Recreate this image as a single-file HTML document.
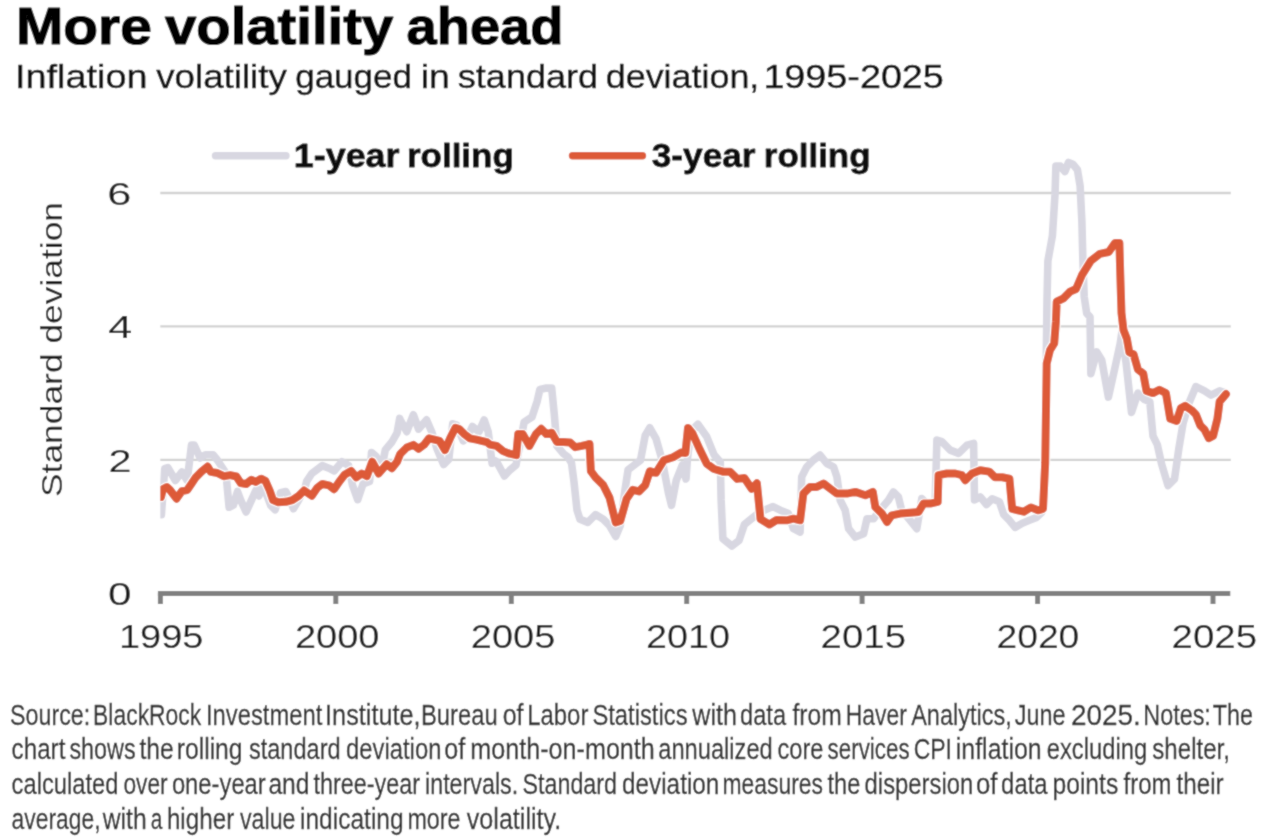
<!DOCTYPE html>
<html><head><meta charset="utf-8"><title>More volatility ahead</title>
<style>html,body{margin:0;padding:0;background:#fff;overflow:hidden;}svg{display:block;}</style></head>
<body><svg width="1284" height="838" viewBox="0 0 1284 838">
<defs><filter id="soft" x="0" y="0" width="1284" height="838" filterUnits="userSpaceOnUse"><feConvolveMatrix order="3" kernelMatrix="1 2 1 2 12 2 1 2 1" divisor="24" edgeMode="duplicate"/></filter></defs>
<g filter="url(#soft)">
<rect width="1284" height="838" fill="#ffffff"/>
<text id="title_0" x="16.00" y="44.40" font-size="52.00" textLength="135.77" lengthAdjust="spacingAndGlyphs" font-family="&quot;Liberation Sans&quot;, Arial, sans-serif" fill="#000" font-weight="700" stroke="#000" stroke-width="1.20" stroke-linejoin="round">More</text>
<text id="title_1" x="165.00" y="44.40" font-size="52.00" textLength="228.25" lengthAdjust="spacingAndGlyphs" font-family="&quot;Liberation Sans&quot;, Arial, sans-serif" fill="#000" font-weight="700" stroke="#000" stroke-width="1.20" stroke-linejoin="round">volatility</text>
<text id="title_2" x="406.60" y="44.40" font-size="52.00" textLength="156.77" lengthAdjust="spacingAndGlyphs" font-family="&quot;Liberation Sans&quot;, Arial, sans-serif" fill="#000" font-weight="700" stroke="#000" stroke-width="1.20" stroke-linejoin="round">ahead</text>
<text id="sub_0" x="15.00" y="88.10" font-size="33.00" textLength="132.49" lengthAdjust="spacingAndGlyphs" font-family="&quot;Liberation Sans&quot;, Arial, sans-serif" fill="#111" stroke="#111" stroke-width="0.40" stroke-linejoin="round">Inflation</text>
<text id="sub_1" x="156.20" y="88.10" font-size="33.00" textLength="130.68" lengthAdjust="spacingAndGlyphs" font-family="&quot;Liberation Sans&quot;, Arial, sans-serif" fill="#111" stroke="#111" stroke-width="0.40" stroke-linejoin="round">volatility</text>
<text id="sub_2" x="295.20" y="88.10" font-size="33.00" textLength="116.81" lengthAdjust="spacingAndGlyphs" font-family="&quot;Liberation Sans&quot;, Arial, sans-serif" fill="#111" stroke="#111" stroke-width="0.40" stroke-linejoin="round">gauged</text>
<text id="sub_3" x="420.80" y="88.10" font-size="33.00" textLength="29.06" lengthAdjust="spacingAndGlyphs" font-family="&quot;Liberation Sans&quot;, Arial, sans-serif" fill="#111" stroke="#111" stroke-width="0.40" stroke-linejoin="round">in</text>
<text id="sub_4" x="457.80" y="88.10" font-size="33.00" textLength="140.29" lengthAdjust="spacingAndGlyphs" font-family="&quot;Liberation Sans&quot;, Arial, sans-serif" fill="#111" stroke="#111" stroke-width="0.40" stroke-linejoin="round">standard</text>
<text id="sub_5" x="605.80" y="88.10" font-size="33.00" textLength="153.48" lengthAdjust="spacingAndGlyphs" font-family="&quot;Liberation Sans&quot;, Arial, sans-serif" fill="#111" stroke="#111" stroke-width="0.40" stroke-linejoin="round">deviation,</text>
<text id="sub_6" x="763.40" y="88.10" font-size="33.00" textLength="180.46" lengthAdjust="spacingAndGlyphs" font-family="&quot;Liberation Sans&quot;, Arial, sans-serif" fill="#111" stroke="#111" stroke-width="0.40" stroke-linejoin="round">1995-2025</text>
<line x1="215.5" y1="155.8" x2="286.0" y2="155.8" stroke="#d8d7e1" stroke-width="7.4" stroke-linecap="round"/>
<line x1="572.5" y1="155.8" x2="642.5" y2="155.8" stroke="#dd5a38" stroke-width="7.4" stroke-linecap="round"/>
<text id="leg1_0" x="293.80" y="167.40" font-size="33.00" textLength="105.71" lengthAdjust="spacingAndGlyphs" font-family="&quot;Liberation Sans&quot;, Arial, sans-serif" fill="#111" font-weight="700" stroke="#111" stroke-width="0.80" stroke-linejoin="round">1-year</text>
<text id="leg1_1" x="407.00" y="167.40" font-size="33.00" textLength="106.75" lengthAdjust="spacingAndGlyphs" font-family="&quot;Liberation Sans&quot;, Arial, sans-serif" fill="#111" font-weight="700" stroke="#111" stroke-width="0.80" stroke-linejoin="round">rolling</text>
<text id="leg3_0" x="651.80" y="167.20" font-size="33.00" textLength="103.69" lengthAdjust="spacingAndGlyphs" font-family="&quot;Liberation Sans&quot;, Arial, sans-serif" fill="#111" font-weight="700" stroke="#111" stroke-width="0.80" stroke-linejoin="round">3-year</text>
<text id="leg3_1" x="763.80" y="167.20" font-size="33.00" textLength="106.73" lengthAdjust="spacingAndGlyphs" font-family="&quot;Liberation Sans&quot;, Arial, sans-serif" fill="#111" font-weight="700" stroke="#111" stroke-width="0.80" stroke-linejoin="round">rolling</text>
<line x1="160.3" y1="459.9" x2="1230.8" y2="459.9" stroke="#d2d2d2" stroke-width="2.4"/>
<line x1="160.3" y1="326.4" x2="1230.8" y2="326.4" stroke="#d2d2d2" stroke-width="2.4"/>
<line x1="160.3" y1="193.0" x2="1230.8" y2="193.0" stroke="#d2d2d2" stroke-width="2.4"/>
<text id="y0" x="107.90" y="605.00" font-size="32.00" textLength="23.52" lengthAdjust="spacingAndGlyphs" font-family="&quot;Liberation Sans&quot;, Arial, sans-serif" fill="#1a1a1a">0</text>
<text id="y2" x="108.50" y="471.50" font-size="32.00" textLength="23.03" lengthAdjust="spacingAndGlyphs" font-family="&quot;Liberation Sans&quot;, Arial, sans-serif" fill="#1a1a1a">2</text>
<text id="y4" x="108.30" y="338.00" font-size="32.00" textLength="24.02" lengthAdjust="spacingAndGlyphs" font-family="&quot;Liberation Sans&quot;, Arial, sans-serif" fill="#1a1a1a">4</text>
<text id="y6" x="107.30" y="204.60" font-size="32.00" textLength="24.11" lengthAdjust="spacingAndGlyphs" font-family="&quot;Liberation Sans&quot;, Arial, sans-serif" fill="#1a1a1a">6</text>
<text transform="translate(61.50,497.00) rotate(-90)" x="0" y="0" font-family="&quot;Liberation Sans&quot;, Arial, sans-serif" font-size="29.50" fill="#1a1a1a" textLength="295.00" lengthAdjust="spacingAndGlyphs">Standard deviation</text>
<defs><clipPath id="pc"><rect x="160.3" y="100" width="1080" height="494"/></clipPath></defs><g clip-path="url(#pc)">
<polyline points="161.4,514.8 164.7,468.7 167.9,467.6 175.4,480.5 181.8,471.9 187.2,480.5 191.5,445.0 194.2,445.0 200.1,458.0 205.5,454.7 213.0,454.7 217.3,460.0 225.9,473.0 229.1,507.3 233.4,505.2 237.5,491.5 240.7,500.1 246.1,512.0 251.5,500.1 255.8,490.5 259.0,495.9 262.2,483.0 270.8,505.6 275.1,509.8 280.5,492.6 285.8,491.5 290.1,500.1 293.4,508.7 298.7,500.1 305.2,487.2 306.6,481.4 311.8,473.5 322.3,465.6 328.9,468.2 334.1,470.9 342.0,461.7 348.6,465.6 352.5,485.3 357.7,499.7 363.0,484.0 369.6,481.4 371.5,452.5 376.1,456.4 381.4,469.6 385.3,449.9 391.9,442.0 397.1,432.8 399.7,418.4 400.2,419.9 406.8,431.7 413.4,414.7 418.6,429.1 426.5,419.9 431.7,431.7 437.0,448.8 443.6,464.6 448.8,459.3 452.7,423.9 456.7,425.2 463.2,440.9 467.0,438.0 472.4,426.5 479.0,431.7 484.2,419.9 488.2,431.7 492.1,463.2 495.0,460.6 496.6,461.6 504.4,476.0 510.0,470.0 516.0,465.0 524.1,422.2 532.0,417.0 537.2,401.2 539.9,389.4 546.4,388.1 551.7,388.1 554.3,414.4 556.9,445.9 563.5,453.7 568.0,457.0 571.5,463.0 574.0,482.0 577.0,510.0 580.0,519.3 587.8,522.4 595.5,514.6 603.3,519.3 609.5,525.5 615.7,536.4 620.3,525.5 625.0,489.8 628.1,469.7 634.3,465.0 640.5,460.3 645.2,435.5 649.8,427.8 656.0,438.6 662.2,460.3 668.4,492.9 671.5,505.3 676.2,480.5 682.4,465.0 686.0,479.0 687.5,458.3 690.7,431.5 697.9,424.3 706.8,436.8 714.0,454.7 720.3,461.9 721.1,499.4 722.9,538.8 731.9,546.0 739.0,540.6 744.4,524.5 753.3,517.3 760.0,512.0 773.0,506.6 780.2,510.2 788.4,513.6 793.4,528.7 800.1,532.0 801.7,476.9 806.8,466.8 813.4,460.1 820.1,455.1 826.8,463.5 833.5,466.8 836.9,476.9 840.2,500.3 845.2,510.3 848.6,528.7 855.3,537.1 863.6,533.7 867.0,518.7 873.6,518.7 880.0,510.0 888.4,500.3 893.4,491.9 898.4,496.9 901.7,510.3 910.1,520.3 916.8,528.7 921.8,498.6 928.0,505.0 935.2,500.3 936.9,440.1 941.9,441.7 950.2,450.1 958.6,453.4 967.0,445.1 973.6,443.4 974.5,500.0 980.3,496.9 986.5,504.5 992.2,498.8 999.4,501.7 1003.7,514.6 1009.4,520.3 1015.1,527.4 1022.3,523.2 1029.4,520.3 1036.6,517.4 1042.0,512.0 1045.0,460.0 1047.0,300.0 1047.9,260.9 1052.4,235.9 1055.0,194.7 1055.9,166.1 1060.4,166.1 1064.9,171.5 1068.5,162.5 1072.9,164.3 1077.4,169.7 1080.1,185.8 1081.9,221.6 1082.8,257.3 1084.2,296.7 1086.7,313.4 1090.0,316.8 1090.9,373.6 1096.7,351.9 1101.8,360.3 1108.4,397.1 1115.1,367.0 1120.2,343.5 1121.8,332.9 1126.1,363.0 1131.5,412.4 1137.9,393.1 1144.4,399.5 1149.8,401.7 1153.0,436.0 1157.3,444.6 1161.6,464.0 1168.0,485.5 1174.5,479.0 1178.8,448.9 1183.1,423.1 1189.5,401.7 1195.9,386.6 1204.5,390.9 1211.0,395.2 1219.6,390.9 1226.0,393.1" fill="none" stroke="#d8d7e1" stroke-width="7.6" stroke-linejoin="round" stroke-linecap="round"/>
<polyline points="161.0,497.0 163.0,489.0 166.8,487.0 170.0,490.0 176.5,498.7 181.8,491.2 187.2,490.1 191.5,483.7 195.8,477.3 201.2,471.9 207.6,466.5 210.8,471.9 217.3,473.0 223.7,476.2 230.2,475.1 236.4,476.5 240.7,483.0 246.1,484.0 251.5,479.7 255.8,481.9 261.1,478.7 265.4,480.8 269.7,490.5 273.0,500.1 278.3,502.3 285.8,501.8 292.3,500.1 298.7,495.9 304.1,490.5 311.8,495.8 317.1,487.9 322.3,484.0 328.9,485.3 334.1,489.2 339.4,481.4 344.6,474.8 351.2,470.9 356.4,477.4 361.7,473.5 366.9,476.1 372.2,461.7 378.7,473.5 386.6,464.3 391.9,468.2 397.1,461.7 400.2,454.0 406.8,447.5 413.4,444.9 418.6,448.8 423.9,444.9 429.1,438.3 434.4,439.6 439.6,440.9 444.9,450.1 450.1,438.3 455.4,427.8 459.3,429.1 464.6,434.4 469.8,438.3 476.4,439.6 481.6,440.9 486.9,442.2 490.0,444.6 496.6,445.9 503.1,451.1 509.7,453.7 516.2,455.1 518.2,434.1 522.8,434.1 529.4,445.9 535.9,434.1 541.2,428.8 546.4,434.1 551.7,432.7 556.9,441.9 563.5,441.9 570.1,442.6 575.3,447.2 581.9,445.9 587.1,444.6 589.5,444.0 590.9,471.2 595.5,477.4 603.3,485.2 609.5,497.6 615.7,522.4 620.3,520.9 626.5,499.1 632.8,489.8 639.0,491.4 645.2,485.2 649.8,471.2 656.0,472.8 663.8,460.3 673.1,457.2 680.9,452.6 685.4,452.9 688.0,427.9 692.5,433.3 699.7,449.4 706.8,463.7 714.0,469.0 722.9,471.7 730.1,471.7 737.2,478.9 744.4,478.0 751.6,488.7 756.9,483.3 760.5,519.1 769.4,524.5 776.6,520.0 786.7,520.3 793.4,518.7 800.1,520.3 803.4,493.6 810.1,486.9 816.8,486.9 823.5,483.5 830.2,488.6 836.9,493.6 846.9,493.6 855.3,491.9 865.3,495.3 872.8,491.9 875.3,507.0 882.0,513.6 887.0,522.0 891.7,515.3 900.1,513.6 910.1,512.8 918.5,512.0 923.5,503.6 930.2,503.6 937.7,501.9 938.5,475.2 946.9,473.5 955.3,473.5 961.9,475.2 965.3,480.2 972.0,473.5 980.3,470.2 989.3,471.6 995.1,477.3 1002.2,477.3 1009.4,478.7 1012.2,508.8 1018.0,510.3 1023.7,511.7 1030.9,507.4 1038.0,510.3 1043.0,508.8 1045.2,463.0 1046.7,363.5 1050.0,350.1 1054.2,343.4 1055.9,321.7 1056.7,301.7 1063.4,298.4 1070.1,291.7 1076.0,289.0 1081.9,275.2 1090.8,260.9 1099.8,253.8 1108.7,252.0 1115.0,243.0 1119.4,243.0 1120.3,275.2 1121.5,313.0 1123.5,330.1 1126.8,338.4 1129.3,352.2 1133.6,354.4 1137.9,369.4 1143.3,373.7 1146.5,390.9 1153.0,393.1 1159.4,389.8 1165.9,393.1 1170.2,418.8 1176.6,421.0 1180.9,408.1 1185.2,405.9 1191.6,410.2 1195.9,414.5 1200.2,425.3 1204.5,429.6 1208.8,438.2 1213.1,436.0 1217.4,418.8 1219.6,401.7 1226.0,394.1" fill="none" stroke="#ffffff" stroke-width="10.4" stroke-linejoin="round" stroke-linecap="round"/>
<polyline points="161.0,497.0 163.0,489.0 166.8,487.0 170.0,490.0 176.5,498.7 181.8,491.2 187.2,490.1 191.5,483.7 195.8,477.3 201.2,471.9 207.6,466.5 210.8,471.9 217.3,473.0 223.7,476.2 230.2,475.1 236.4,476.5 240.7,483.0 246.1,484.0 251.5,479.7 255.8,481.9 261.1,478.7 265.4,480.8 269.7,490.5 273.0,500.1 278.3,502.3 285.8,501.8 292.3,500.1 298.7,495.9 304.1,490.5 311.8,495.8 317.1,487.9 322.3,484.0 328.9,485.3 334.1,489.2 339.4,481.4 344.6,474.8 351.2,470.9 356.4,477.4 361.7,473.5 366.9,476.1 372.2,461.7 378.7,473.5 386.6,464.3 391.9,468.2 397.1,461.7 400.2,454.0 406.8,447.5 413.4,444.9 418.6,448.8 423.9,444.9 429.1,438.3 434.4,439.6 439.6,440.9 444.9,450.1 450.1,438.3 455.4,427.8 459.3,429.1 464.6,434.4 469.8,438.3 476.4,439.6 481.6,440.9 486.9,442.2 490.0,444.6 496.6,445.9 503.1,451.1 509.7,453.7 516.2,455.1 518.2,434.1 522.8,434.1 529.4,445.9 535.9,434.1 541.2,428.8 546.4,434.1 551.7,432.7 556.9,441.9 563.5,441.9 570.1,442.6 575.3,447.2 581.9,445.9 587.1,444.6 589.5,444.0 590.9,471.2 595.5,477.4 603.3,485.2 609.5,497.6 615.7,522.4 620.3,520.9 626.5,499.1 632.8,489.8 639.0,491.4 645.2,485.2 649.8,471.2 656.0,472.8 663.8,460.3 673.1,457.2 680.9,452.6 685.4,452.9 688.0,427.9 692.5,433.3 699.7,449.4 706.8,463.7 714.0,469.0 722.9,471.7 730.1,471.7 737.2,478.9 744.4,478.0 751.6,488.7 756.9,483.3 760.5,519.1 769.4,524.5 776.6,520.0 786.7,520.3 793.4,518.7 800.1,520.3 803.4,493.6 810.1,486.9 816.8,486.9 823.5,483.5 830.2,488.6 836.9,493.6 846.9,493.6 855.3,491.9 865.3,495.3 872.8,491.9 875.3,507.0 882.0,513.6 887.0,522.0 891.7,515.3 900.1,513.6 910.1,512.8 918.5,512.0 923.5,503.6 930.2,503.6 937.7,501.9 938.5,475.2 946.9,473.5 955.3,473.5 961.9,475.2 965.3,480.2 972.0,473.5 980.3,470.2 989.3,471.6 995.1,477.3 1002.2,477.3 1009.4,478.7 1012.2,508.8 1018.0,510.3 1023.7,511.7 1030.9,507.4 1038.0,510.3 1043.0,508.8 1045.2,463.0 1046.7,363.5 1050.0,350.1 1054.2,343.4 1055.9,321.7 1056.7,301.7 1063.4,298.4 1070.1,291.7 1076.0,289.0 1081.9,275.2 1090.8,260.9 1099.8,253.8 1108.7,252.0 1115.0,243.0 1119.4,243.0 1120.3,275.2 1121.5,313.0 1123.5,330.1 1126.8,338.4 1129.3,352.2 1133.6,354.4 1137.9,369.4 1143.3,373.7 1146.5,390.9 1153.0,393.1 1159.4,389.8 1165.9,393.1 1170.2,418.8 1176.6,421.0 1180.9,408.1 1185.2,405.9 1191.6,410.2 1195.9,414.5 1200.2,425.3 1204.5,429.6 1208.8,438.2 1213.1,436.0 1217.4,418.8 1219.6,401.7 1226.0,394.1" fill="none" stroke="#dd5a38" stroke-width="8.0" stroke-linejoin="round" stroke-linecap="round"/>
</g>
<line x1="157.9" y1="593.5" x2="1230.3" y2="593.5" stroke="#808080" stroke-width="5"/>
<line x1="160.4" y1="593" x2="160.4" y2="604" stroke="#808080" stroke-width="5"/>
<text id="x1995" x="118.90" y="648.00" font-size="33.00" textLength="84.59" lengthAdjust="spacingAndGlyphs" font-family="&quot;Liberation Sans&quot;, Arial, sans-serif" fill="#1a1a1a">1995</text>
<line x1="335.8" y1="593" x2="335.8" y2="604" stroke="#808080" stroke-width="5"/>
<text id="x2000" x="294.93" y="648.00" font-size="33.00" textLength="84.58" lengthAdjust="spacingAndGlyphs" font-family="&quot;Liberation Sans&quot;, Arial, sans-serif" fill="#1a1a1a">2000</text>
<line x1="511.3" y1="593" x2="511.3" y2="604" stroke="#808080" stroke-width="5"/>
<text id="x2005" x="470.77" y="648.00" font-size="33.00" textLength="84.56" lengthAdjust="spacingAndGlyphs" font-family="&quot;Liberation Sans&quot;, Arial, sans-serif" fill="#1a1a1a">2005</text>
<line x1="686.7" y1="593" x2="686.7" y2="604" stroke="#808080" stroke-width="5"/>
<text id="x2010" x="646.00" y="648.00" font-size="33.00" textLength="84.14" lengthAdjust="spacingAndGlyphs" font-family="&quot;Liberation Sans&quot;, Arial, sans-serif" fill="#1a1a1a">2010</text>
<line x1="862.1" y1="593" x2="862.1" y2="604" stroke="#808080" stroke-width="5"/>
<text id="x2015" x="820.63" y="648.00" font-size="33.00" textLength="85.41" lengthAdjust="spacingAndGlyphs" font-family="&quot;Liberation Sans&quot;, Arial, sans-serif" fill="#1a1a1a">2015</text>
<line x1="1037.6" y1="593" x2="1037.6" y2="604" stroke="#808080" stroke-width="5"/>
<text id="x2020" x="996.47" y="648.00" font-size="33.00" textLength="82.86" lengthAdjust="spacingAndGlyphs" font-family="&quot;Liberation Sans&quot;, Arial, sans-serif" fill="#1a1a1a">2020</text>
<line x1="1213.0" y1="593" x2="1213.0" y2="604" stroke="#808080" stroke-width="5"/>
<text id="x2025" x="1171.50" y="648.00" font-size="33.00" textLength="85.63" lengthAdjust="spacingAndGlyphs" font-family="&quot;Liberation Sans&quot;, Arial, sans-serif" fill="#1a1a1a">2025</text>
<text id="fn0_0" x="10.10" y="724.80" font-size="28.80" textLength="80.05" lengthAdjust="spacingAndGlyphs" font-family="&quot;Liberation Sans&quot;, Arial, sans-serif" fill="#2e2e2e" stroke="#2e2e2e" stroke-width="0.30" stroke-linejoin="round">Source:</text>
<text id="fn0_1" x="93.10" y="724.80" font-size="28.80" textLength="108.14" lengthAdjust="spacingAndGlyphs" font-family="&quot;Liberation Sans&quot;, Arial, sans-serif" fill="#2e2e2e" stroke="#2e2e2e" stroke-width="0.30" stroke-linejoin="round">BlackRock</text>
<text id="fn0_2" x="206.00" y="724.80" font-size="28.80" textLength="116.29" lengthAdjust="spacingAndGlyphs" font-family="&quot;Liberation Sans&quot;, Arial, sans-serif" fill="#2e2e2e" stroke="#2e2e2e" stroke-width="0.30" stroke-linejoin="round">Investment</text>
<text id="fn0_3" x="325.10" y="724.80" font-size="28.80" textLength="95.51" lengthAdjust="spacingAndGlyphs" font-family="&quot;Liberation Sans&quot;, Arial, sans-serif" fill="#2e2e2e" stroke="#2e2e2e" stroke-width="0.30" stroke-linejoin="round">Institute,</text>
<text id="fn0_4" x="421.00" y="724.80" font-size="28.80" textLength="76.66" lengthAdjust="spacingAndGlyphs" font-family="&quot;Liberation Sans&quot;, Arial, sans-serif" fill="#2e2e2e" stroke="#2e2e2e" stroke-width="0.30" stroke-linejoin="round">Bureau</text>
<text id="fn0_5" x="502.70" y="724.80" font-size="28.80" textLength="20.79" lengthAdjust="spacingAndGlyphs" font-family="&quot;Liberation Sans&quot;, Arial, sans-serif" fill="#2e2e2e" stroke="#2e2e2e" stroke-width="0.30" stroke-linejoin="round">of</text>
<text id="fn0_6" x="527.20" y="724.80" font-size="28.80" textLength="61.22" lengthAdjust="spacingAndGlyphs" font-family="&quot;Liberation Sans&quot;, Arial, sans-serif" fill="#2e2e2e" stroke="#2e2e2e" stroke-width="0.30" stroke-linejoin="round">Labor</text>
<text id="fn0_7" x="592.40" y="724.80" font-size="28.80" textLength="95.15" lengthAdjust="spacingAndGlyphs" font-family="&quot;Liberation Sans&quot;, Arial, sans-serif" fill="#2e2e2e" stroke="#2e2e2e" stroke-width="0.30" stroke-linejoin="round">Statistics</text>
<text id="fn0_8" x="692.30" y="724.80" font-size="28.80" textLength="44.67" lengthAdjust="spacingAndGlyphs" font-family="&quot;Liberation Sans&quot;, Arial, sans-serif" fill="#2e2e2e" stroke="#2e2e2e" stroke-width="0.30" stroke-linejoin="round">with</text>
<text id="fn0_9" x="740.10" y="724.80" font-size="28.80" textLength="45.95" lengthAdjust="spacingAndGlyphs" font-family="&quot;Liberation Sans&quot;, Arial, sans-serif" fill="#2e2e2e" stroke="#2e2e2e" stroke-width="0.30" stroke-linejoin="round">data</text>
<text id="fn0_10" x="792.50" y="724.80" font-size="28.80" textLength="49.28" lengthAdjust="spacingAndGlyphs" font-family="&quot;Liberation Sans&quot;, Arial, sans-serif" fill="#2e2e2e" stroke="#2e2e2e" stroke-width="0.30" stroke-linejoin="round">from</text>
<text id="fn0_11" x="845.70" y="724.80" font-size="28.80" textLength="61.16" lengthAdjust="spacingAndGlyphs" font-family="&quot;Liberation Sans&quot;, Arial, sans-serif" fill="#2e2e2e" stroke="#2e2e2e" stroke-width="0.30" stroke-linejoin="round">Haver</text>
<text id="fn0_12" x="911.20" y="724.80" font-size="28.80" textLength="100.47" lengthAdjust="spacingAndGlyphs" font-family="&quot;Liberation Sans&quot;, Arial, sans-serif" fill="#2e2e2e" stroke="#2e2e2e" stroke-width="0.30" stroke-linejoin="round">Analytics,</text>
<text id="fn0_13" x="1014.80" y="724.80" font-size="28.80" textLength="50.85" lengthAdjust="spacingAndGlyphs" font-family="&quot;Liberation Sans&quot;, Arial, sans-serif" fill="#2e2e2e" stroke="#2e2e2e" stroke-width="0.30" stroke-linejoin="round">June</text>
<text id="fn0_14" x="1071.00" y="724.80" font-size="28.80" textLength="69.80" lengthAdjust="spacingAndGlyphs" font-family="&quot;Liberation Sans&quot;, Arial, sans-serif" fill="#2e2e2e" stroke="#2e2e2e" stroke-width="0.30" stroke-linejoin="round">2025.</text>
<text id="fn0_15" x="1143.30" y="724.80" font-size="28.80" textLength="67.55" lengthAdjust="spacingAndGlyphs" font-family="&quot;Liberation Sans&quot;, Arial, sans-serif" fill="#2e2e2e" stroke="#2e2e2e" stroke-width="0.30" stroke-linejoin="round">Notes:</text>
<text id="fn0_16" x="1212.70" y="724.80" font-size="28.80" textLength="40.26" lengthAdjust="spacingAndGlyphs" font-family="&quot;Liberation Sans&quot;, Arial, sans-serif" fill="#2e2e2e" stroke="#2e2e2e" stroke-width="0.30" stroke-linejoin="round">The</text>
<text id="fn1_0" x="11.60" y="758.80" font-size="28.80" textLength="53.79" lengthAdjust="spacingAndGlyphs" font-family="&quot;Liberation Sans&quot;, Arial, sans-serif" fill="#2e2e2e" stroke="#2e2e2e" stroke-width="0.30" stroke-linejoin="round">chart</text>
<text id="fn1_1" x="69.40" y="758.80" font-size="28.80" textLength="66.27" lengthAdjust="spacingAndGlyphs" font-family="&quot;Liberation Sans&quot;, Arial, sans-serif" fill="#2e2e2e" stroke="#2e2e2e" stroke-width="0.30" stroke-linejoin="round">shows</text>
<text id="fn1_2" x="139.40" y="758.80" font-size="28.80" textLength="34.24" lengthAdjust="spacingAndGlyphs" font-family="&quot;Liberation Sans&quot;, Arial, sans-serif" fill="#2e2e2e" stroke="#2e2e2e" stroke-width="0.30" stroke-linejoin="round">the</text>
<text id="fn1_3" x="176.70" y="758.80" font-size="28.80" textLength="65.91" lengthAdjust="spacingAndGlyphs" font-family="&quot;Liberation Sans&quot;, Arial, sans-serif" fill="#2e2e2e" stroke="#2e2e2e" stroke-width="0.30" stroke-linejoin="round">rolling</text>
<text id="fn1_4" x="248.90" y="758.80" font-size="28.80" textLength="91.69" lengthAdjust="spacingAndGlyphs" font-family="&quot;Liberation Sans&quot;, Arial, sans-serif" fill="#2e2e2e" stroke="#2e2e2e" stroke-width="0.30" stroke-linejoin="round">standard</text>
<text id="fn1_5" x="346.00" y="758.80" font-size="28.80" textLength="95.39" lengthAdjust="spacingAndGlyphs" font-family="&quot;Liberation Sans&quot;, Arial, sans-serif" fill="#2e2e2e" stroke="#2e2e2e" stroke-width="0.30" stroke-linejoin="round">deviation</text>
<text id="fn1_6" x="444.30" y="758.80" font-size="28.80" textLength="20.95" lengthAdjust="spacingAndGlyphs" font-family="&quot;Liberation Sans&quot;, Arial, sans-serif" fill="#2e2e2e" stroke="#2e2e2e" stroke-width="0.30" stroke-linejoin="round">of</text>
<text id="fn1_7" x="470.30" y="758.80" font-size="28.80" textLength="184.53" lengthAdjust="spacingAndGlyphs" font-family="&quot;Liberation Sans&quot;, Arial, sans-serif" fill="#2e2e2e" stroke="#2e2e2e" stroke-width="0.30" stroke-linejoin="round">month-on-month</text>
<text id="fn1_8" x="658.30" y="758.80" font-size="28.80" textLength="114.46" lengthAdjust="spacingAndGlyphs" font-family="&quot;Liberation Sans&quot;, Arial, sans-serif" fill="#2e2e2e" stroke="#2e2e2e" stroke-width="0.30" stroke-linejoin="round">annualized</text>
<text id="fn1_9" x="777.50" y="758.80" font-size="28.80" textLength="45.97" lengthAdjust="spacingAndGlyphs" font-family="&quot;Liberation Sans&quot;, Arial, sans-serif" fill="#2e2e2e" stroke="#2e2e2e" stroke-width="0.30" stroke-linejoin="round">core</text>
<text id="fn1_10" x="827.60" y="758.80" font-size="28.80" textLength="82.01" lengthAdjust="spacingAndGlyphs" font-family="&quot;Liberation Sans&quot;, Arial, sans-serif" fill="#2e2e2e" stroke="#2e2e2e" stroke-width="0.30" stroke-linejoin="round">services</text>
<text id="fn1_11" x="913.70" y="758.80" font-size="28.80" textLength="38.33" lengthAdjust="spacingAndGlyphs" font-family="&quot;Liberation Sans&quot;, Arial, sans-serif" fill="#2e2e2e" stroke="#2e2e2e" stroke-width="0.30" stroke-linejoin="round">CPI</text>
<text id="fn1_12" x="955.80" y="758.80" font-size="28.80" textLength="85.91" lengthAdjust="spacingAndGlyphs" font-family="&quot;Liberation Sans&quot;, Arial, sans-serif" fill="#2e2e2e" stroke="#2e2e2e" stroke-width="0.30" stroke-linejoin="round">inflation</text>
<text id="fn1_13" x="1046.70" y="758.80" font-size="28.80" textLength="100.54" lengthAdjust="spacingAndGlyphs" font-family="&quot;Liberation Sans&quot;, Arial, sans-serif" fill="#2e2e2e" stroke="#2e2e2e" stroke-width="0.30" stroke-linejoin="round">excluding</text>
<text id="fn1_14" x="1152.30" y="758.80" font-size="28.80" textLength="77.66" lengthAdjust="spacingAndGlyphs" font-family="&quot;Liberation Sans&quot;, Arial, sans-serif" fill="#2e2e2e" stroke="#2e2e2e" stroke-width="0.30" stroke-linejoin="round">shelter,</text>
<text id="fn2_0" x="11.60" y="794.10" font-size="28.80" textLength="106.92" lengthAdjust="spacingAndGlyphs" font-family="&quot;Liberation Sans&quot;, Arial, sans-serif" fill="#2e2e2e" stroke="#2e2e2e" stroke-width="0.30" stroke-linejoin="round">calculated</text>
<text id="fn2_1" x="123.40" y="794.10" font-size="28.80" textLength="44.24" lengthAdjust="spacingAndGlyphs" font-family="&quot;Liberation Sans&quot;, Arial, sans-serif" fill="#2e2e2e" stroke="#2e2e2e" stroke-width="0.30" stroke-linejoin="round">over</text>
<text id="fn2_2" x="171.90" y="794.10" font-size="28.80" textLength="93.86" lengthAdjust="spacingAndGlyphs" font-family="&quot;Liberation Sans&quot;, Arial, sans-serif" fill="#2e2e2e" stroke="#2e2e2e" stroke-width="0.30" stroke-linejoin="round">one-year</text>
<text id="fn2_3" x="268.40" y="794.10" font-size="28.80" textLength="41.16" lengthAdjust="spacingAndGlyphs" font-family="&quot;Liberation Sans&quot;, Arial, sans-serif" fill="#2e2e2e" stroke="#2e2e2e" stroke-width="0.30" stroke-linejoin="round">and</text>
<text id="fn2_4" x="313.40" y="794.10" font-size="28.80" textLength="106.61" lengthAdjust="spacingAndGlyphs" font-family="&quot;Liberation Sans&quot;, Arial, sans-serif" fill="#2e2e2e" stroke="#2e2e2e" stroke-width="0.30" stroke-linejoin="round">three-year</text>
<text id="fn2_5" x="425.00" y="794.10" font-size="28.80" textLength="93.20" lengthAdjust="spacingAndGlyphs" font-family="&quot;Liberation Sans&quot;, Arial, sans-serif" fill="#2e2e2e" stroke="#2e2e2e" stroke-width="0.30" stroke-linejoin="round">intervals.</text>
<text id="fn2_6" x="522.40" y="794.10" font-size="28.80" textLength="94.71" lengthAdjust="spacingAndGlyphs" font-family="&quot;Liberation Sans&quot;, Arial, sans-serif" fill="#2e2e2e" stroke="#2e2e2e" stroke-width="0.30" stroke-linejoin="round">Standard</text>
<text id="fn2_7" x="622.00" y="794.10" font-size="28.80" textLength="97.36" lengthAdjust="spacingAndGlyphs" font-family="&quot;Liberation Sans&quot;, Arial, sans-serif" fill="#2e2e2e" stroke="#2e2e2e" stroke-width="0.30" stroke-linejoin="round">deviation</text>
<text id="fn2_8" x="722.50" y="794.10" font-size="28.80" textLength="100.39" lengthAdjust="spacingAndGlyphs" font-family="&quot;Liberation Sans&quot;, Arial, sans-serif" fill="#2e2e2e" stroke="#2e2e2e" stroke-width="0.30" stroke-linejoin="round">measures</text>
<text id="fn2_9" x="827.50" y="794.10" font-size="28.80" textLength="32.79" lengthAdjust="spacingAndGlyphs" font-family="&quot;Liberation Sans&quot;, Arial, sans-serif" fill="#2e2e2e" stroke="#2e2e2e" stroke-width="0.30" stroke-linejoin="round">the</text>
<text id="fn2_10" x="864.60" y="794.10" font-size="28.80" textLength="108.62" lengthAdjust="spacingAndGlyphs" font-family="&quot;Liberation Sans&quot;, Arial, sans-serif" fill="#2e2e2e" stroke="#2e2e2e" stroke-width="0.30" stroke-linejoin="round">dispersion</text>
<text id="fn2_11" x="976.00" y="794.10" font-size="28.80" textLength="21.47" lengthAdjust="spacingAndGlyphs" font-family="&quot;Liberation Sans&quot;, Arial, sans-serif" fill="#2e2e2e" stroke="#2e2e2e" stroke-width="0.30" stroke-linejoin="round">of</text>
<text id="fn2_12" x="1001.10" y="794.10" font-size="28.80" textLength="46.53" lengthAdjust="spacingAndGlyphs" font-family="&quot;Liberation Sans&quot;, Arial, sans-serif" fill="#2e2e2e" stroke="#2e2e2e" stroke-width="0.30" stroke-linejoin="round">data</text>
<text id="fn2_13" x="1052.50" y="794.10" font-size="28.80" textLength="65.72" lengthAdjust="spacingAndGlyphs" font-family="&quot;Liberation Sans&quot;, Arial, sans-serif" fill="#2e2e2e" stroke="#2e2e2e" stroke-width="0.30" stroke-linejoin="round">points</text>
<text id="fn2_14" x="1123.50" y="794.10" font-size="28.80" textLength="47.93" lengthAdjust="spacingAndGlyphs" font-family="&quot;Liberation Sans&quot;, Arial, sans-serif" fill="#2e2e2e" stroke="#2e2e2e" stroke-width="0.30" stroke-linejoin="round">from</text>
<text id="fn2_15" x="1176.50" y="794.10" font-size="28.80" textLength="47.19" lengthAdjust="spacingAndGlyphs" font-family="&quot;Liberation Sans&quot;, Arial, sans-serif" fill="#2e2e2e" stroke="#2e2e2e" stroke-width="0.30" stroke-linejoin="round">their</text>
<text id="fn3_0" x="11.60" y="828.60" font-size="28.80" textLength="89.01" lengthAdjust="spacingAndGlyphs" font-family="&quot;Liberation Sans&quot;, Arial, sans-serif" fill="#2e2e2e" stroke="#2e2e2e" stroke-width="0.30" stroke-linejoin="round">average,</text>
<text id="fn3_1" x="102.70" y="828.60" font-size="28.80" textLength="43.93" lengthAdjust="spacingAndGlyphs" font-family="&quot;Liberation Sans&quot;, Arial, sans-serif" fill="#2e2e2e" stroke="#2e2e2e" stroke-width="0.30" stroke-linejoin="round">with</text>
<text id="fn3_2" x="150.80" y="828.60" font-size="28.80" textLength="11.60" lengthAdjust="spacingAndGlyphs" font-family="&quot;Liberation Sans&quot;, Arial, sans-serif" fill="#2e2e2e" stroke="#2e2e2e" stroke-width="0.30" stroke-linejoin="round">a</text>
<text id="fn3_3" x="166.90" y="828.60" font-size="28.80" textLength="67.38" lengthAdjust="spacingAndGlyphs" font-family="&quot;Liberation Sans&quot;, Arial, sans-serif" fill="#2e2e2e" stroke="#2e2e2e" stroke-width="0.30" stroke-linejoin="round">higher</text>
<text id="fn3_4" x="240.00" y="828.60" font-size="28.80" textLength="55.41" lengthAdjust="spacingAndGlyphs" font-family="&quot;Liberation Sans&quot;, Arial, sans-serif" fill="#2e2e2e" stroke="#2e2e2e" stroke-width="0.30" stroke-linejoin="round">value</text>
<text id="fn3_5" x="300.00" y="828.60" font-size="28.80" textLength="103.66" lengthAdjust="spacingAndGlyphs" font-family="&quot;Liberation Sans&quot;, Arial, sans-serif" fill="#2e2e2e" stroke="#2e2e2e" stroke-width="0.30" stroke-linejoin="round">indicating</text>
<text id="fn3_6" x="407.40" y="828.60" font-size="28.80" textLength="53.08" lengthAdjust="spacingAndGlyphs" font-family="&quot;Liberation Sans&quot;, Arial, sans-serif" fill="#2e2e2e" stroke="#2e2e2e" stroke-width="0.30" stroke-linejoin="round">more</text>
<text id="fn3_7" x="466.80" y="828.60" font-size="28.80" textLength="94.43" lengthAdjust="spacingAndGlyphs" font-family="&quot;Liberation Sans&quot;, Arial, sans-serif" fill="#2e2e2e" stroke="#2e2e2e" stroke-width="0.30" stroke-linejoin="round">volatility.</text>
</g>
</svg></body></html>
